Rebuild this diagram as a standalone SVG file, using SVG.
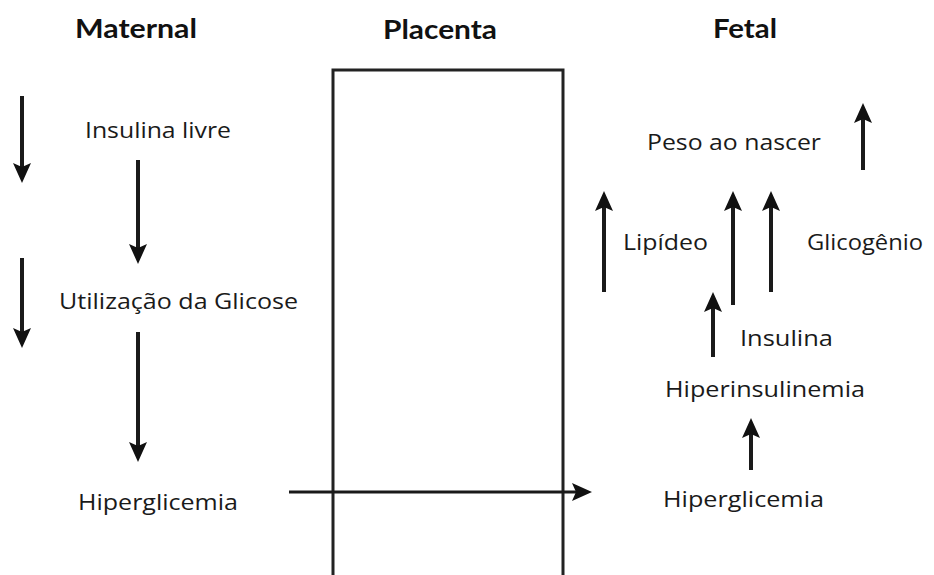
<svg xmlns="http://www.w3.org/2000/svg" width="934" height="575" viewBox="0 0 934 575">
<style>
.title{font-family:Lato,"Liberation Sans",sans-serif;font-weight:700;font-size:27px;fill:#111}
.lbl{font-family:"Open Sans","Liberation Sans",sans-serif;font-size:22px;fill:#1a1a1a}
.arr{stroke:#1a1a1a;stroke-width:4;fill:none;marker-end:url(#ah)}
.harr{stroke:#1a1a1a;stroke-width:3;fill:none;marker-end:url(#ah)}
.box{stroke:#222;stroke-width:3;fill:none}
</style>
<defs>
<marker id="ah" markerUnits="userSpaceOnUse" markerWidth="24" markerHeight="22" refX="9" refY="10" orient="auto" viewBox="0 0 24 22">
<path d="M0,1 L20,10 L0,19 L4,10 z" fill="#111"/>
</marker>
</defs>
<rect width="934" height="575" fill="#fff"/>
<g id="titles">
<text class="title" x="75" y="38" textLength="122" lengthAdjust="spacingAndGlyphs">Maternal</text>
<text class="title" x="383" y="39" textLength="114" lengthAdjust="spacingAndGlyphs">Placenta</text>
<text class="title" x="713" y="38" textLength="64" lengthAdjust="spacingAndGlyphs">Fetal</text>
</g>
<g id="placenta">
<path class="box" d="M333,576 V70 H563 V576"/>
</g>
<g id="insulina-livre"><text class="lbl" x="85" y="138" textLength="146" lengthAdjust="spacingAndGlyphs">Insulina livre</text></g>
<g id="utilizacao"><text class="lbl" x="59" y="309" textLength="239" lengthAdjust="spacingAndGlyphs">Utilização da Glicose</text></g>
<g id="hiperglicemia-mat"><text class="lbl" x="78" y="510" textLength="160" lengthAdjust="spacingAndGlyphs">Hiperglicemia</text></g>
<g id="peso"><text class="lbl" x="647" y="150" textLength="174" lengthAdjust="spacingAndGlyphs">Peso ao nascer</text></g>
<g id="lipideo"><text class="lbl" x="623" y="250" textLength="85" lengthAdjust="spacingAndGlyphs">Lipídeo</text></g>
<g id="glicogenio"><text class="lbl" x="807" y="250" textLength="116" lengthAdjust="spacingAndGlyphs">Glicogênio</text></g>
<g id="insulina"><text class="lbl" x="740" y="346" textLength="93" lengthAdjust="spacingAndGlyphs">Insulina</text></g>
<g id="hiperinsulinemia"><text class="lbl" x="665" y="397" textLength="200" lengthAdjust="spacingAndGlyphs">Hiperinsulinemia</text></g>
<g id="hiperglicemia-fet"><text class="lbl" x="663" y="507" textLength="161" lengthAdjust="spacingAndGlyphs">Hiperglicemia</text></g>
<g id="connectors">
<line class="arr" x1="22" y1="96" x2="22" y2="172"/>
<line class="arr" x1="22" y1="258" x2="22" y2="337"/>
<line class="arr" x1="138" y1="160" x2="138" y2="253"/>
<line class="arr" x1="138" y1="332" x2="138" y2="451"/>
<line class="arr" x1="863" y1="170" x2="863" y2="114"/>
<line class="arr" x1="604" y1="292" x2="604" y2="202"/>
<line class="arr" x1="733" y1="305" x2="733" y2="202"/>
<line class="arr" x1="771" y1="292" x2="771" y2="202"/>
<line class="arr" x1="713" y1="357" x2="713" y2="303"/>
<line class="arr" x1="751" y1="470" x2="751" y2="429"/>
<line class="harr" x1="289" y1="492" x2="581" y2="492"/>
</g>
</svg>
